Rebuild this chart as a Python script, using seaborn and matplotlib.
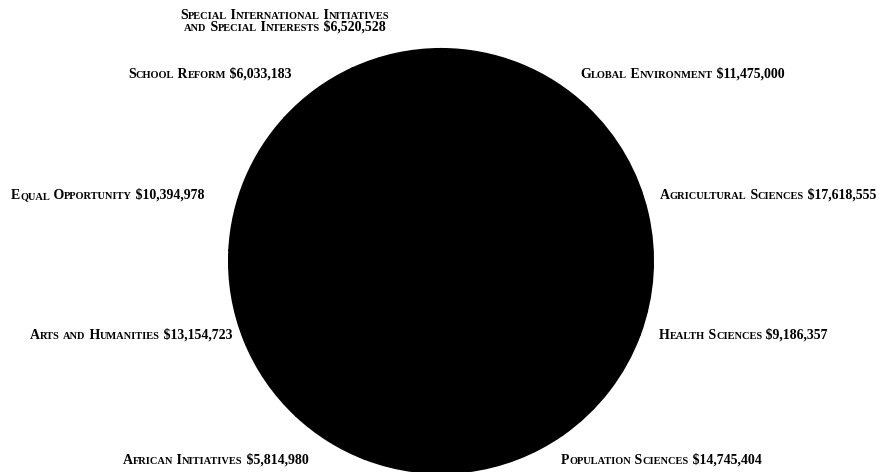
import numpy as np
import pandas as pd
import seaborn as sns
import matplotlib.pyplot as plt

# grant totals by program, counter-clockwise from 12 o'clock
programs = ['Special International Initiatives\nand Special Interests', 'School Reform',
            'Equal Opportunity', 'Arts and Humanities', 'African Initiatives',
            'Population Sciences', 'Health Sciences', 'Agricultural Sciences',
            'Global Environment']
amounts = [6520528, 6033183, 10394978, 13154723, 5814980,
           14745404, 9186357, 17618555, 11475000]

# where each caption sits (pixel x, pixel baseline y, alignment)
label_pos = {
    'Special International Initiatives\nand Special Interests': (285, 19, 'center'),
    'School Reform': (128, 78, 'left'),
    'Equal Opportunity': (11, 199, 'left'),
    'Arts and Humanities': (30, 339, 'left'),
    'African Initiatives': (123, 464, 'left'),
    'Population Sciences': (561, 464, 'left'),
    'Health Sciences': (659, 339, 'left'),
    'Agricultural Sciences': (660, 199, 'left'),
    'Global Environment': (580, 78, 'left'),
}

BIG, SMALL = 10.0, 7.5
LINE_GAP = 12

df = pd.DataFrame({'program': programs, 'amount': amounts})

sns.set_style('white')
plt.rcParams['font.family'] = ['Liberation Serif', 'DejaVu Serif']

W, H = 885, 472
fig = plt.figure(figsize=(W / 100, H / 100), dpi=100)

cx, cy, r = 441, 261, 212
ax = fig.add_axes([(cx - r) / W, 1 - (cy + r) / H, 2 * r / W, 2 * r / H])
ax.pie(df['amount'], colors=['black'] * len(df), startangle=90, counterclock=True,
       wedgeprops=dict(edgecolor='black', linewidth=1.5))
ax.set_xlim(-1, 1)
ax.set_ylim(-1, 1)
ax.set_aspect('equal')
ax.axis('off')

renderer = fig.canvas.get_renderer()


def small_caps_runs(s):
    # split a string into (text, size) runs: lowercase -> small capitals
    runs = []
    for ch in s:
        size = SMALL if ch.islower() else BIG
        ch = ch.upper()
        if runs and runs[-1][1] == size:
            runs[-1][0] += ch
        else:
            runs.append([ch, size])
    return runs


def draw_line(s, x, y, ha):
    pieces = []
    for txt, size in small_caps_runs(s):
        t = fig.text(0, 1 - y / H, txt, fontsize=size, fontweight='bold',
                     color='black', ha='left', va='baseline')
        pieces.append(t)
    widths = [t.get_window_extent(renderer).width for t in pieces]
    start = x - sum(widths) / 2 if ha == 'center' else x
    for t, w in zip(pieces, widths):
        t.set_x(start / W)
        start += w


for _, row in df.iterrows():
    x, y, ha = label_pos[row['program']]
    lines = f"{row['program']} ${row['amount']:,}".split('\n')
    for i, line in enumerate(lines):
        draw_line(line, x, y + i * LINE_GAP, ha)

fig.savefig('out.png', dpi=100, facecolor='white')
